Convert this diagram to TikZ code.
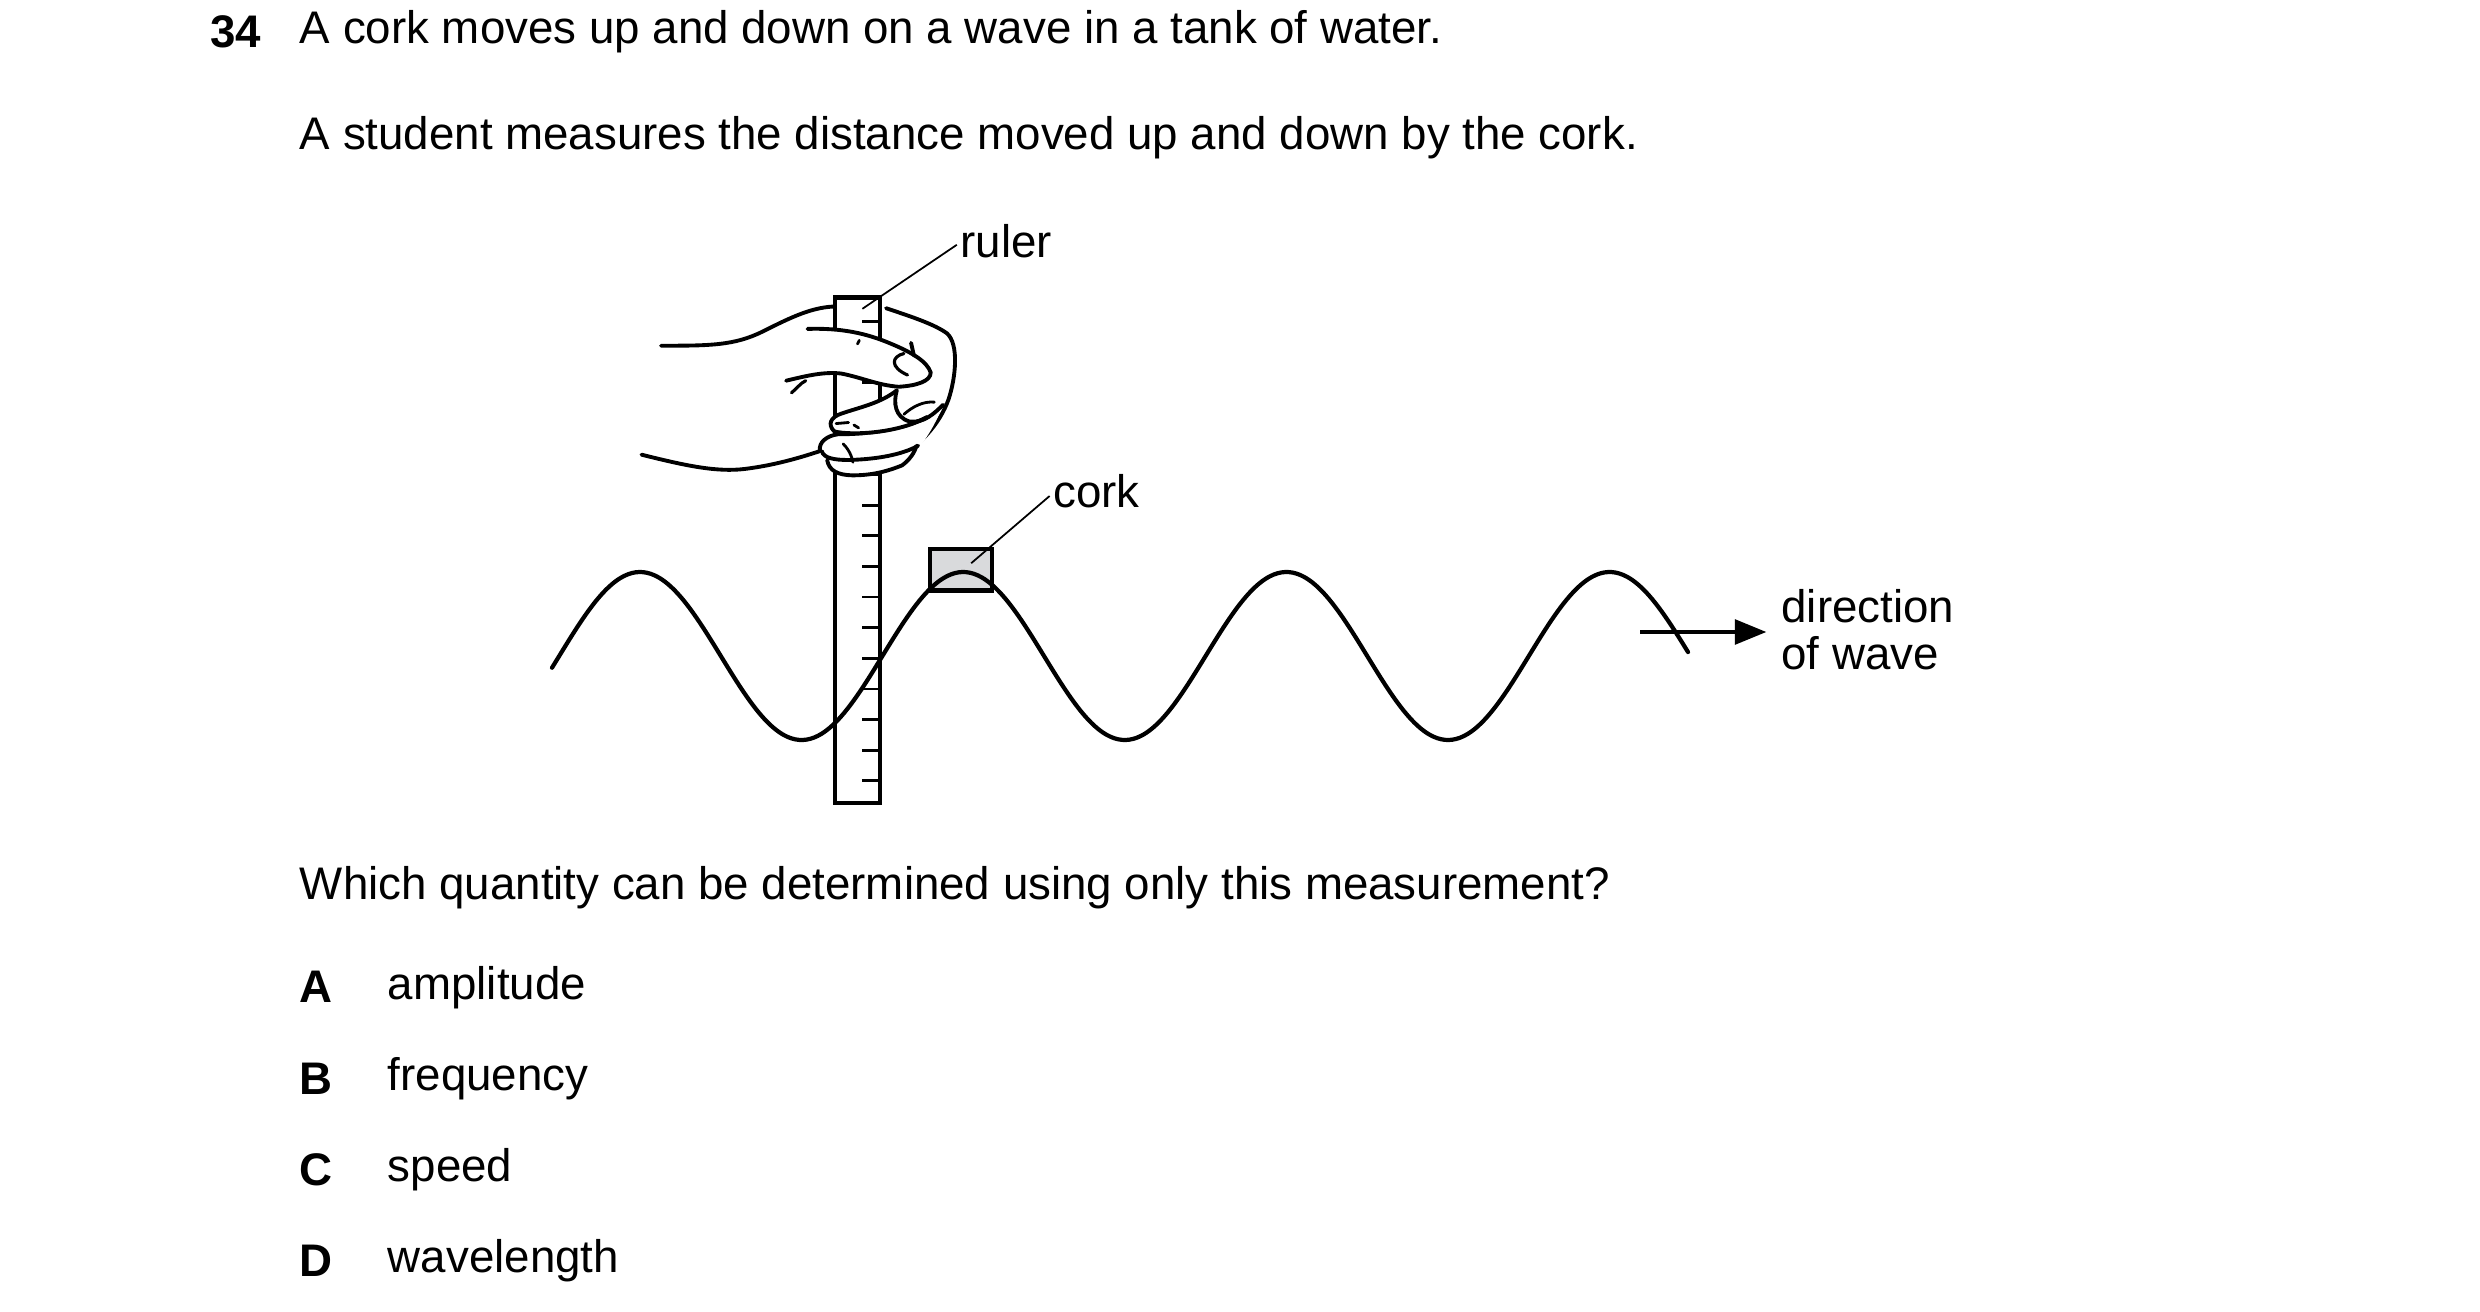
\documentclass[tikz,border=0pt]{standalone}
\usepackage{fontspec}
\setmainfont{Liberation Sans}
\usetikzlibrary{arrows.meta}
\begin{document}
\begin{tikzpicture}[x=0.016cm,y=-0.016cm,
  txt/.style={anchor=west,inner sep=0pt,font=\fontsize{13pt}{15pt}\selectfont},
  bold/.style={txt,font=\fontsize{13pt}{15pt}\selectfont\bfseries},
  thick line/.style={line width=1.2pt,line cap=round,line join=round},
  hand/.style={line width=1.1pt,line cap=round,line join=round},
  leader/.style={line width=0.5pt}]
\useasboundingbox (0,0) rectangle (1550,819.4);
% texts
\node[bold] (q) at (131,20) {34};
\node[txt] (l1) at (187,20) {A cork moves up and down on a wave in a tank of water.};
\node[txt] (l2) at (187,86) {A student measures the distance moved up and down by the cork.};
\node[txt] (l3) at (187,555) {Which quantity can be determined using only this measurement?};
\node[bold] (A) at (187,617) {A};\node[txt] (a) at (242,617) {amplitude};
\node[bold] (B) at (187,674) {B};\node[txt] (b) at (242,674) {frequency};
\node[bold] (C) at (187,731) {C};\node[txt] (c) at (242,731) {speed};
\node[bold] (D) at (187,788) {D};\node[txt] (d) at (242,788) {wavelength};
% hand back (behind ruler)
\begin{scope}[shift={(387.5,162.5)},scale=0.2232]
\draw[hand] (115,240) .. controls (250,240) and (320,240) .. (400,200) .. controls (480,160) and (540,130) .. (610,130);
\draw[hand] (745,135) .. controls (820,160) and (880,180) .. (915,205) .. controls (950,235) and (940,330) .. (920,390) .. controls (895,460) and (840,520) .. (760,570);
\draw[hand] (60,545) .. controls (180,575) and (270,595) .. (350,585) .. controls (430,575) and (500,555) .. (560,535);
\end{scope}
% ruler
\node[draw,fill=white,line width=1.2pt,minimum width=28*0.016cm,minimum height=316*0.016cm,inner sep=0pt] (ruler) at (536,344) {};
\foreach \k in {0,...,15}{\draw[line width=0.8pt] (539,200.8+19.15*\k) -- (550,200.8+19.15*\k);}
% fingers (in front)
\begin{scope}[shift={(387.5,162.5)},scale=0.2232]
\fill[white] (565,530) .. controls (550,510) and (580,490) .. (610,488) .. controls (700,485) and (800,470) .. (870,430) -- (905,405) .. controls (880,470) and (840,530) .. (800,565) .. controls (760,590) and (700,605) .. (640,602) .. controls (600,600) and (580,580) .. (578,560) .. controls (560,555) and (555,540) .. (565,530) -- cycle;
\draw[hand] (560,535) .. controls (555,510) and (580,492) .. (610,488) .. controls (700,488) and (790,475) .. (860,440);
\draw[hand] (565,535) .. controls (570,555) and (600,560) .. (640,560) .. controls (720,558) and (790,545) .. (835,520);
\draw[hand] (580,560) .. controls (585,590) and (610,602) .. (650,603) .. controls (700,603) and (740,595) .. (790,575) .. controls (810,560) and (825,540) .. (830,520);
\draw[hand,dash pattern=on 6pt off 5pt,line width=0.8pt] (625,515) .. controls (645,535) and (655,560) .. (655,595);
\fill[white] (600,480) .. controls (580,460) and (590,440) .. (620,430) .. controls (680,410) and (730,400) .. (770,370) -- (775,365) .. controls (765,400) and (770,440) .. (810,452) .. controls (850,458) and (880,430) .. (905,405) .. controls (870,450) and (800,478) .. (700,488) .. controls (650,490) and (620,488) .. (600,480) -- cycle;
\draw[hand] (600,480) .. controls (580,460) and (590,440) .. (620,430) .. controls (680,410) and (730,400) .. (775,365);
\draw[hand] (775,365) .. controls (765,400) and (770,440) .. (810,452) .. controls (850,458) and (880,430) .. (905,405);
\draw[hand] (600,480) .. controls (650,492) and (780,485) .. (860,440);
\draw[hand,line width=0.8pt] (795,432) .. controls (820,410) and (850,395) .. (880,398);
\draw[hand,line width=0.8pt] (605,458) -- (640,455);\draw[hand,line width=0.8pt] (655,462) -- (668,470);
\fill[white] (525,193) .. controls (620,190) and (690,205) .. (760,235) .. controls (820,260) and (860,285) .. (870,315) .. controls (870,340) and (830,352) .. (780,355) .. controls (720,350) and (680,330) .. (620,318) .. controls (570,312) and (520,325) .. (465,338) -- cycle;
\draw[hand] (525,193) .. controls (620,190) and (690,205) .. (760,235) .. controls (820,260) and (860,285) .. (870,315) .. controls (870,340) and (830,352) .. (780,355) .. controls (720,350) and (680,330) .. (620,318) .. controls (570,312) and (520,325) .. (465,338);
\draw[hand,line width=0.9pt] (520,338) .. controls (505,345) and (495,360) .. (480,372);
\draw[hand,line width=0.9pt] (795,262) .. controls (760,270) and (755,300) .. (805,322);
\draw[hand] (815,232) -- (823,268);
\draw[hand,line width=0.8pt] (670,225) -- (665,235);
\end{scope}
% cork
\node[draw,fill={rgb,255:red,217;green,218;blue,220},line width=1.2pt,minimum width=39*0.016cm,minimum height=26*0.016cm,inner sep=0pt] (cork) at (600.5,356) {};
% wave
\draw[thick line] plot[domain=345:1055,samples=300,smooth] (\x,{410-52.5*cos(1.78218*(\x-400))});
% labels
\node[txt] (rl) at (600,151) {ruler};
\node[txt] (cl) at (658,307) {cork};
\coordinate (rin) at (539,193);
\coordinate (cin) at (607,352);
\draw[leader] (rl.west) ++(-2,2) -- (rin);
\draw[leader] (cl.west) ++(-2,3) -- (cin);
\coordinate (as) at (1025,395);
\coordinate (ae) at (1104,395);
\draw[line width=1.2pt,-{Triangle[length=9pt,width=7pt]}] (as) -- (ae);
\node[txt] (dir1) at (1113,379) {direction};
\node[txt] (dir2) at (1113,408) {of wave};
\end{tikzpicture}
\end{document}
